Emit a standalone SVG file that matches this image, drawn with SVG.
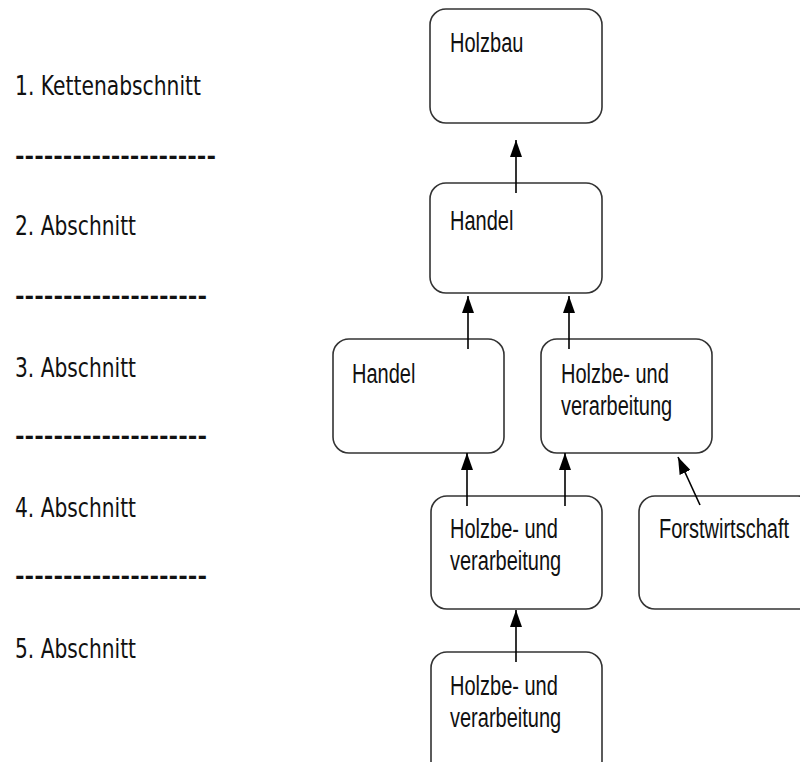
<svg xmlns="http://www.w3.org/2000/svg" width="800" height="762" viewBox="0 0 800 762">
<defs>
<marker id="ah" markerWidth="17" markerHeight="12" refX="17" refY="6" orient="auto" markerUnits="userSpaceOnUse" viewBox="0 0 17 12">
<path d="M0,0 L17,6 L0,12 Z" fill="#000"/>
</marker>
<style>
.box{fill:#fff;stroke:#333;stroke-width:1.6}
.t{font-family:"Liberation Sans",Arial,sans-serif;font-size:20px;fill:#111}
.l{font-family:"DejaVu Sans",Verdana,sans-serif;font-size:20px;fill:#111}
.c{stroke:#000;stroke-width:1.6;fill:none;marker-end:url(#ah)}
</style>
</defs>
<rect width="800" height="762" fill="#fff"/>
<g id="labels">
<text class="l" transform="translate(15,95) scale(1,1.37)" textLength="186" lengthAdjust="spacingAndGlyphs">1. Kettenabschnitt</text>
<text class="l" transform="translate(15,169) scale(1,2)" textLength="201" lengthAdjust="spacingAndGlyphs">---------------------</text>
<text class="l" transform="translate(15,235) scale(1,1.37)" textLength="121" lengthAdjust="spacingAndGlyphs">2. Abschnitt</text>
<text class="l" transform="translate(15,309) scale(1,2)" textLength="192" lengthAdjust="spacingAndGlyphs">--------------------</text>
<text class="l" transform="translate(15,377) scale(1,1.37)" textLength="121" lengthAdjust="spacingAndGlyphs">3. Abschnitt</text>
<text class="l" transform="translate(15,449) scale(1,2)" textLength="192" lengthAdjust="spacingAndGlyphs">--------------------</text>
<text class="l" transform="translate(15,517) scale(1,1.37)" textLength="121" lengthAdjust="spacingAndGlyphs">4. Abschnitt</text>
<text class="l" transform="translate(15,589) scale(1,2)" textLength="192" lengthAdjust="spacingAndGlyphs">--------------------</text>
<text class="l" transform="translate(15,658) scale(1,1.37)" textLength="121" lengthAdjust="spacingAndGlyphs">5. Abschnitt</text>
</g>
<g id="n-holzbau">
<rect class="box" x="430" y="9" width="172" height="114" rx="16"/>
<text class="t" transform="translate(450,52) scale(1,1.4)">Holzbau</text>
</g>
<g id="n-handel2">
<rect class="box" x="430" y="183" width="172" height="110" rx="16"/>
<text class="t" transform="translate(450,230) scale(1,1.4)">Handel</text>
</g>
<g id="n-handel3">
<rect class="box" x="333" y="339" width="171" height="114" rx="16"/>
<text class="t" transform="translate(352,383) scale(1,1.4)">Handel</text>
</g>
<g id="n-holzbe3">
<rect class="box" x="541" y="339" width="171" height="114" rx="16"/>
<text class="t" transform="translate(561,383) scale(1,1.4)">Holzbe- und</text>
<text class="t" transform="translate(561,415) scale(1,1.4)">verarbeitung</text>
</g>
<g id="n-holzbe4">
<rect class="box" x="431" y="496" width="171" height="113" rx="16"/>
<text class="t" transform="translate(450,538) scale(1,1.4)">Holzbe- und</text>
<text class="t" transform="translate(450,570) scale(1,1.4)">verarbeitung</text>
</g>
<g id="n-forst">
<rect class="box" x="639" y="496" width="175" height="113" rx="16"/>
<text class="t" transform="translate(659,538) scale(1,1.4)">Forstwirtschaft</text>
</g>
<g id="n-holzbe5">
<rect class="box" x="431" y="652" width="171" height="125" rx="16"/>
<text class="t" transform="translate(450,695) scale(1,1.4)">Holzbe- und</text>
<text class="t" transform="translate(450,727) scale(1,1.4)">verarbeitung</text>
</g>
<g id="connectors">
<line class="c" x1="516" y1="193" x2="516" y2="140"/>
<line class="c" x1="468" y1="349" x2="468" y2="296"/>
<line class="c" x1="569" y1="349" x2="569" y2="296"/>
<line class="c" x1="467" y1="506" x2="467" y2="453"/>
<line class="c" x1="565" y1="506" x2="565" y2="453"/>
<line class="c" x1="700" y1="505" x2="678" y2="457"/>
<line class="c" x1="516" y1="662" x2="516" y2="610"/>
</g>
</svg>
